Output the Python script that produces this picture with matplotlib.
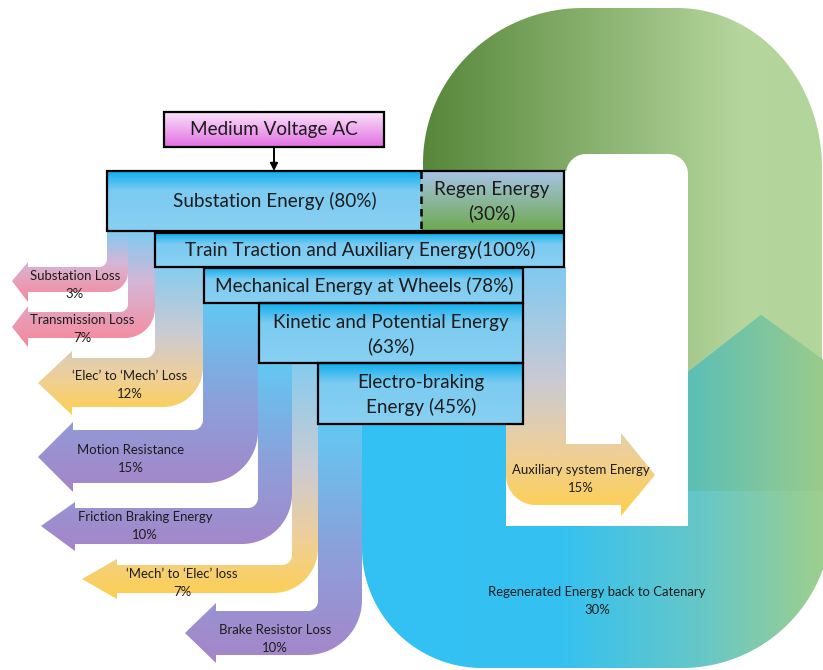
import numpy as np
import matplotlib
matplotlib.use("Agg")
import matplotlib.pyplot as plt
from matplotlib.path import Path
from matplotlib.patches import PathPatch, Rectangle
from matplotlib.colors import LinearSegmentedColormap

# ---------------- data ----------------
source_label = "Medium Voltage AC"
node_names = ["Substation Energy", "Regen Energy", "Train Traction and Auxiliary Energy",
              "Mechanical Energy at Wheels", "Kinetic and Potential Energy", "Electro-braking\nEnergy"]
node_pct = [80, 30, 100, 78, 63, 45]
loss_names = ["Substation Loss", "Transmission Loss", "\u2018Elec\u2019 to \u2018Mech\u2019 Loss",
              "Motion Resistance", "Friction Braking Energy", "\u2018Mech\u2019 to \u2018Elec\u2019 loss",
              "Brake Resistor Loss"]
loss_pct = [3, 7, 12, 15, 10, 7, 10]
aux_name, aux_pct = "Auxiliary system Energy", 15
regen_name, regen_pct = "Regenerated Energy back to Catenary", 30

# ---------------- figure ----------------
W, H = 823, 670
fig = plt.figure(figsize=(W / 100, H / 100), dpi=100)
ax = fig.add_axes([0, 0, 1, 1])
ax.axis('off')
FONT = ['Lato', 'DejaVu Sans']
TXT = '#1c1c1c'


def arc(cx, cy, rx, ry, a0, a1, n=40):
    t = np.radians(np.linspace(a0, a1, n))
    return list(zip(cx + rx * np.cos(t), cy + ry * np.sin(t)))


def grad_fill(verts, stops, x0, x1, y0, y1, vertical=True, z=1):
    v = list(verts) + [verts[0]]
    patch = PathPatch(Path(v, closed=True), facecolor='none', edgecolor='none', zorder=z)
    ax.add_patch(patch)
    cmap = LinearSegmentedColormap.from_list('g', stops)
    n = 256
    arr = np.linspace(0, 1, n).reshape(n, 1) if vertical else np.linspace(0, 1, n).reshape(1, n)
    im = ax.imshow(arr, cmap=cmap, vmin=0, vmax=1, extent=(x0, x1, y1, y0), origin='upper',
                   aspect='auto', interpolation='bilinear', zorder=z)
    im.set_clip_path(patch)


def rect(x0, y0, x1, y1):
    return [(x0, y0), (x1, y0), (x1, y1), (x0, y1)]


# ---------------- big regeneration loop (background) ----------------
green = [(423, 171)] + arc(583, 163, 160, 155, 180, 270) + arc(677, 168, 145, 160, 270, 360) + \
        [(822, 420), (566, 420), (566, 171)]
grad_fill(green, [(0, '#57873a'), (0.8, '#b5d69d'), (1, '#b2d59b')], 423, 823, 0, 420,
          vertical=False, z=1)

bottom = [(362, 424), (362, 548)] + arc(482, 548, 120, 120, 180, 90) + \
         arc(682, 518, 150, 150, 90, 0) + [(832, 366), (761, 315), (688, 372), (688, 424)]
grad_fill(bottom, [(0, '#33c0f3'), (0.42, '#35c1f1'), (0.72, '#66c7c8'), (0.98, '#9dcf8e'),
                   (1, '#9dcf8e')], 362, 832, 300, 670, vertical=False, z=2)
teal = [(688, 372), (761, 315), (832, 366), (832, 491), (688, 491)]
grad_fill(teal, [(0, '#5bbfb6'), (1, '#9acb8c')], 688, 823, 300, 491, vertical=False, z=3)

hole = [(506, 424), (566, 424), (566, 174)] + arc(586, 174, 20, 20, 180, 270) + \
       arc(668, 174, 20, 20, 270, 360) + [(688, 526), (506, 526)]
ax.add_patch(PathPatch(Path(hole + [hole[0]], closed=True), facecolor='white',
                       edgecolor='none', zorder=4))

# ---------------- loss arrows ----------------
BLUE = '#7ecbf1'
PINK = [(0, BLUE), (0.45, '#d6b6d6'), (1, '#f8879a')]
ORNG = [(0, '#86cbef'), (0.45, '#cccbd2'), (0.75, '#efcf98'), (1, '#fdd050')]
PURP = [(0, '#62c8f2'), (0.5, '#8aa2dc'), (1, '#a685c8')]

# geometry: vertical band (xl, xr, ytop), body (top, bottom), head base x, head (top, bottom),
# tip (x, y), outer radius, inner radius, gradient, label centre
loss_geom = [
    (107, 128, 231, 267, 292, 28, 262, 302, 12, 281, 20, 8, PINK, (75, 285)),
    (128, 155, 231, 312, 338, 28, 306, 347, 12, 327, 30, 8, PINK, (82, 329)),
    (155, 203, 267, 358, 407, 72, 351, 415, 38, 383, 40, 10, ORNG, (130, 385)),
    (203, 258, 303, 430, 483, 73, 422, 492, 38, 457, 52, 10, PURP, (131, 459)),
    (258, 292, 363, 508, 544, 75, 502, 551, 41, 526, 50, 10, PURP, (145, 526)),
    (292, 318, 363, 565, 593, 117, 559, 599, 82, 579, 45, 10, ORNG, (182, 583)),
    (318, 362, 424, 611, 655, 216, 603, 663, 185, 633, 55, 10, PURP, (275, 639)),
]

for g in loss_geom:
    xl, xr, yt, bt, bb, hx, ht, hb, tx, ty, ro, ri, stops, _ = g
    v = [(xl, yt), (xr, yt)] + arc(xr - ro, bb - ro, ro, ro, 0, 90) + \
        [(hx, bb), (hx, hb), (tx, ty), (hx, ht), (hx, bt)] + arc(xl - ri, bt - ri, ri, ri, 90, 0)
    grad_fill(v, stops, tx, xr, yt, hb, vertical=True, z=5)

# auxiliary arrow (down then right)
aux = [(506, 267), (566, 267), (566, 444), (621, 444), (621, 433), (655, 475), (621, 516),
       (621, 505)] + arc(536, 475, 30, 30, 90, 180)
grad_fill(aux, [(0, '#80c9f1'), (0.45, '#c9cad4'), (0.75, '#efcf98'), (1, '#fecf4c')],
          506, 655, 267, 516, vertical=True, z=5)

# ---------------- boxes ----------------
BOX = [(0, '#0eafee'), (0.33, '#7ccbf1'), (1, '#88d0f2')]


def box(x0, y0, x1, y1, stops, z=8, lw=1.6, ec='black'):
    grad_fill(rect(x0, y0, x1, y1), stops, x0, x1, y0, y1, vertical=True, z=z)
    ax.add_patch(Rectangle((x0, y0), x1 - x0, y1 - y0, fill=False, edgecolor=ec, lw=lw, zorder=z + 1))


box(164, 112, 384, 147, [(0, '#fbe2fb'), (1, '#e16fe1')])
ax.annotate('', xy=(274, 171), xytext=(274, 147),
            arrowprops=dict(arrowstyle='-|>', color='black', lw=1.4, mutation_scale=11,
                            shrinkA=0, shrinkB=0), zorder=10)

grad_fill(rect(107, 171, 421, 231), BOX, 107, 421, 171, 231, vertical=True, z=8)
grad_fill(rect(421, 171, 564, 231), [(0, '#a7c3e6'), (1, '#6ea94e')], 421, 564, 171, 231,
          vertical=True, z=8)
ax.add_patch(Rectangle((107, 171), 457, 60, fill=False, edgecolor='black', lw=1.6, zorder=9))
ax.plot([421, 421], [171, 231], color='black', lw=1.8, ls=(0, (3, 2)), zorder=10)

box(155, 233, 564, 267, BOX)
box(204, 268, 523, 303, BOX)
box(259, 303, 523, 363, BOX)
box(318, 363, 523, 424, BOX)

# ---------------- text ----------------
renderer = fig.canvas.get_renderer()


def fit_size(sample, target_px):
    t = ax.text(0, 0, sample, fontsize=10, family=FONT)
    w = t.get_window_extent(renderer).width
    t.remove()
    return 10 * target_px / w


node_text = [
    "{} ({}%)".format(node_names[0], node_pct[0]),
    "{}\n({}%)".format(node_names[1], node_pct[1]),
    "{}({}%)".format(node_names[2], node_pct[2]),
    "{} ({}%)".format(node_names[3], node_pct[3]),
    "{}\n({}%)".format(node_names[4], node_pct[4]),
    "{} ({}%)".format(node_names[5], node_pct[5]),
]
BIG = fit_size(node_text[2], 350)
SMALL = fit_size(regen_name, 219)

ax.text(274, 130, source_label, fontsize=BIG, family=FONT, color=TXT, ha='center', va='center', zorder=12)
node_pos = [(275, 201), (492, 202), (360, 250), (364, 286), (391, 335), (421, 395)]
for s, (x, y) in zip(node_text, node_pos):
    ax.text(x, y, s, fontsize=BIG, family=FONT, color=TXT, ha='center', va='center',
            linespacing=1.42, multialignment='center', zorder=12)

for name, p, g in zip(loss_names, loss_pct, loss_geom):
    x, y = g[-1]
    ax.text(x, y, "{}\n{}%".format(name, p), fontsize=SMALL, family=FONT, color=TXT,
            ha='center', va='center', linespacing=1.55, multialignment='center', zorder=12)

ax.text(581, 479, "{}\n{}%".format(aux_name, aux_pct), fontsize=SMALL, family=FONT, color=TXT,
        ha='center', va='center', linespacing=1.55, multialignment='center', zorder=12)
ax.text(597, 601, "{}\n{}%".format(regen_name, regen_pct), fontsize=SMALL, family=FONT, color=TXT,
        ha='center', va='center', linespacing=1.55, multialignment='center', zorder=12)

ax.set_xlim(0, W)
ax.set_ylim(H, 0)
fig.savefig('out.png', dpi=100, facecolor='white')
